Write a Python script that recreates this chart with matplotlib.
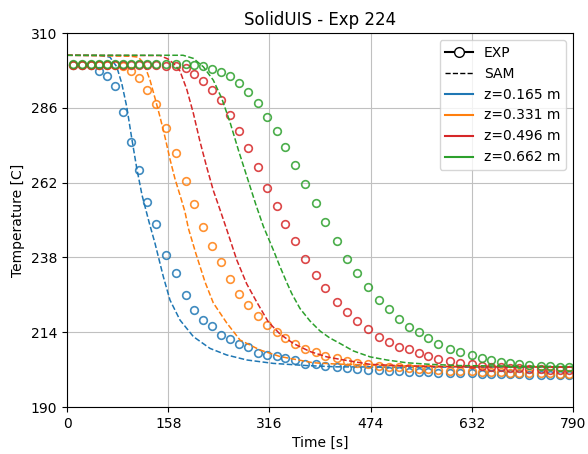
import matplotlib
matplotlib.use("Agg")
import matplotlib.pyplot as plt
from matplotlib.lines import Line2D

title = "SolidUIS - Exp 224"
labels = ["z=0.165 m", "z=0.331 m", "z=0.496 m", "z=0.662 m"]
colors = ["#1f77b4", "#ff7f0e", "#d62728", "#2ca02c"]
xticks = [0, 158, 316, 474, 632, 790]
yticks = [190, 214, 238, 262, 286, 310]

# Experimental data (time in s, temperature in C)
t_exp = [8.9, 23.0, 37.0, 50.4, 62.0, 74.9, 87.0, 99.5, 111.9, 125.4, 139.0, 154.6,
         170.2, 185.8, 198.3, 212.8, 225.9, 240.0, 254.5, 268.5, 282.1, 297.7, 312.7,
         327.4, 341.1, 356.0, 372.1, 388.3, 403.3, 421.1, 437.9, 453.2, 469.9, 487.6,
         502.3, 517.9, 533.5, 549.1, 563.2, 578.8, 598.0, 613.6, 631.9, 647.5, 661.5,
         677.1, 691.6, 706.1, 721.8, 739.6, 754.1, 769.7, 784.2]

T_exp_1 = [299.7, 299.7, 299.8, 297.9, 296.3, 293.0, 284.8, 275.0, 266.0, 255.7, 248.6,
           238.7, 233.1, 225.8, 221.1, 217.9, 216.0, 213.0, 211.7, 210.2, 209.2, 207.2,
           206.6, 206.5, 205.7, 205.1, 203.9, 203.7, 203.3, 202.7, 202.4, 202.2, 202.0,
           201.8, 201.6, 201.5, 201.3, 201.2, 201.1, 201.0, 200.9, 200.8, 200.8, 200.7,
           200.6, 200.6, 200.5, 200.5, 200.4, 200.4, 200.4, 200.3, 200.3]

T_exp_2 = [299.8, 299.8, 299.8, 299.8, 299.8, 299.7, 299.4, 297.7, 295.7, 291.8, 287.1,
           279.5, 271.4, 262.7, 255.0, 247.8, 241.6, 236.4, 231.0, 226.3, 222.6, 219.3,
           216.2, 214.1, 212.1, 210.2, 208.7, 207.7, 206.4, 205.6, 204.9, 204.2, 203.7,
           203.3, 203.0, 202.7, 202.5, 202.3, 202.1, 201.9, 201.7, 201.6, 201.4, 201.3,
           201.2, 201.1, 201.0, 200.9, 200.9, 200.8, 200.8, 200.7, 200.7]

T_exp_3 = [299.8, 299.8, 299.8, 299.8, 299.8, 299.8, 299.8, 299.8, 299.8, 299.7, 299.7,
           299.6, 299.4, 298.8, 297.0, 294.6, 291.9, 288.7, 283.7, 278.7, 273.0, 266.9,
           260.4, 254.6, 248.9, 243.3, 237.4, 232.4, 228.1, 223.8, 220.5, 217.6, 214.9,
           212.6, 210.8, 209.4, 208.5, 207.2, 206.4, 205.5, 204.9, 204.2, 203.8, 203.2,
           202.9, 202.8, 202.5, 202.4, 202.2, 202.1, 202.0, 202.0, 201.9]

T_exp_4 = [300.0, 300.0, 300.0, 300.0, 300.0, 300.0, 300.0, 300.0, 300.0, 300.0, 300.0,
           300.0, 300.0, 300.0, 299.7, 299.4, 298.5, 297.5, 296.2, 294.1, 291.2, 287.7,
           283.2, 278.7, 273.5, 267.7, 261.5, 255.6, 249.5, 243.3, 237.6, 233.1, 228.6,
           224.3, 221.5, 218.3, 215.8, 214.0, 212.1, 210.2, 208.5, 207.6, 206.7, 205.8,
           205.1, 204.5, 204.2, 203.8, 203.5, 203.3, 203.2, 203.0, 202.8]

# SAM simulation results
t_sam_1 = [0, 51.5, 67.0, 77.6, 85.4, 93.2, 101.0, 108.8, 117.1, 128.0, 137.4, 150.4,
           160.8, 176.4, 197.2, 223.3, 249.3, 280.6, 322.1, 374.2, 420.0, 520.0, 650.0, 790.0]
T_sam_1 = [302.9, 302.8, 302.3, 299.2, 293.9, 286.4, 276.3, 266.7, 258.0, 249.4, 242.5,
           231.8, 224.3, 217.9, 212.6, 208.8, 206.7, 205.1, 204.0, 203.3, 202.9, 202.8,
           202.8, 202.8]

t_sam_2 = [0, 98.4, 111.3, 120.2, 129.6, 137.4, 145.2, 153.0, 160.8, 168.6, 176.4, 184.2,
           189.4, 201.4, 215.5, 228.4, 249.3, 270.1, 301.3, 332.6, 384.5, 420.0, 520.0,
           650.0, 790.0]
T_sam_2 = [302.9, 302.6, 302.3, 300.2, 294.9, 289.1, 283.1, 276.6, 269.5, 263.2, 258.0,
           252.6, 247.4, 239.1, 230.1, 223.4, 217.0, 211.5, 208.3, 206.2, 204.2, 203.8,
           203.2, 203.0, 202.9]

t_sam_3 = [0, 145.2, 157.7, 167.1, 176.4, 186.9, 197.2, 207.6, 218.1, 228.4, 238.9, 249.3,
           265.0, 280.6, 296.2, 314.3, 332.6, 353.3, 379.4, 405.5, 426.2, 473.1, 524.6,
           602.7, 790.0]
T_sam_3 = [302.9, 302.8, 301.7, 300.1, 297.8, 292.0, 284.3, 275.2, 267.0, 259.5, 253.3,
           247.0, 237.2, 229.5, 223.7, 217.3, 213.4, 210.4, 207.8, 206.1, 205.3, 203.7,
           203.2, 202.9, 202.8]

t_sam_4 = [0, 181.1, 197.2, 212.8, 228.4, 241.5, 254.5, 267.5, 280.6, 295.1, 306.5, 322.1,
           332.6, 343.0, 350.9, 363.8, 379.4, 395.0, 410.0, 426.2, 447.0, 473.1, 499.1,
           530.4, 566.7, 613.6, 700.0, 790.0]
T_sam_4 = [302.9, 302.9, 301.9, 299.2, 294.9, 289.1, 281.4, 272.5, 264.1, 254.8, 248.0,
           240.4, 235.0, 230.0, 226.4, 221.6, 217.6, 214.4, 212.2, 210.4, 208.0, 206.1,
           205.1, 204.2, 203.7, 203.3, 203.1, 203.0]

t_exp_all = [t_exp, t_exp, t_exp, t_exp]
T_exp_all = [T_exp_1, T_exp_2, T_exp_3, T_exp_4]
t_sam_all = [t_sam_1, t_sam_2, t_sam_3, t_sam_4]
T_sam_all = [T_sam_1, T_sam_2, T_sam_3, T_sam_4]

fig = plt.figure(figsize=(5.88, 4.54), dpi=100)
ax = fig.add_axes([0.114, 0.1035, 0.8605, 0.8235])

for te, Te, ts, Ts, c in zip(t_exp_all, T_exp_all, t_sam_all, T_sam_all, colors):
    ax.plot(te, Te, linestyle="none", marker="o", markersize=5.5, markerfacecolor="none",
            markeredgecolor=c, markeredgewidth=1.2, alpha=0.85)
    ax.plot(ts, Ts, linestyle="--", color=c, linewidth=1.1)

ax.set_xlim(xticks[0], xticks[-1])
ax.set_ylim(yticks[0], yticks[-1])
ax.set_xticks(xticks)
ax.set_yticks(yticks)
ax.grid(True, color="#c0c0c0", linewidth=0.8)
ax.set_axisbelow(True)
ax.set_xlabel("Time [s]")
ax.set_ylabel("Temperature [C]")
ax.set_title(title, fontsize=12)

handles = [Line2D([], [], color="black", marker="o", markerfacecolor="white", markersize=7,
                  linestyle="-", linewidth=1.5),
           Line2D([], [], color="black", linestyle="--", linewidth=1.0)]
hlabels = ["EXP", "SAM"]
for c, lab in zip(colors, labels):
    handles.append(Line2D([], [], color=c, linewidth=1.5))
    hlabels.append(lab)
ax.legend(handles, hlabels, loc="upper right", fontsize=10)

fig.savefig("out.png", dpi=100)
